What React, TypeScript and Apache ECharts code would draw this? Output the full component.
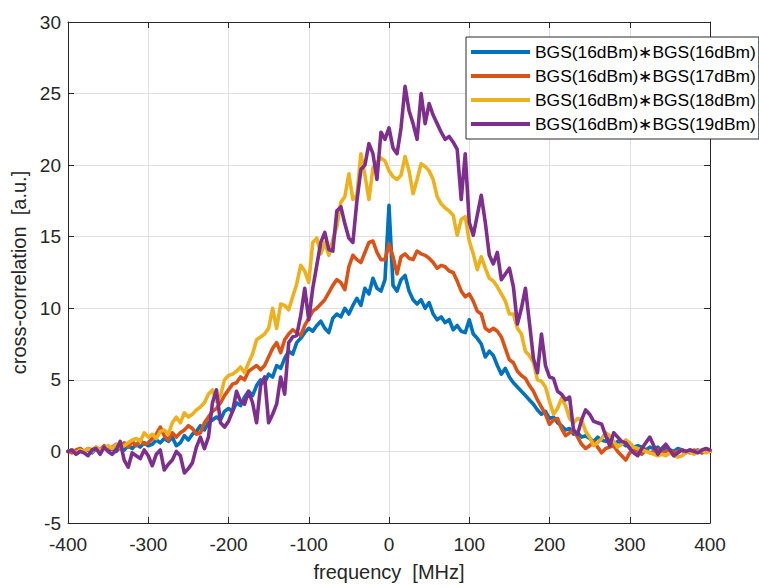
import React, { useEffect, useRef } from "react";
import * as echarts from "echarts";

const FREQ_START = -400;
const FREQ_STEP = 5;

const seriesNames = [
  "BGS(16dBm)\u2217BGS(16dBm)",
  "BGS(16dBm)\u2217BGS(17dBm)",
  "BGS(16dBm)\u2217BGS(18dBm)",
  "BGS(16dBm)\u2217BGS(19dBm)",
];
const seriesColors = ["#0072BD", "#D95319", "#EDB120", "#7E2F8E"];

const xTicks = [-400, -300, -200, -100, 0, 100, 200, 300, 400];
const yTicks = [-5, 0, 5, 10, 15, 20, 25, 30];

// values every 5 MHz, from -400 to 400 MHz
const bgs16 = [
  0.0, 0.1, -0.1, 0.2, 0.0, 0.1, -0.1, 0.2, 0.0, 0.3, 0.1, 0.2, 0.0, 0.3, 0.1, 0.4, 0.2, 0.5, 0.3, 0.6,
  0.4, 0.5, 0.8, 0.6, 0.9, 0.7, 1.0, 0.4, 0.6, 1.1, 0.8, 1.2, 1.4, 1.8, 1.5, 2.0, 2.2, 2.4, 2.2, 2.8,
  3.0, 2.8, 3.4, 3.2, 3.8, 4.2, 3.9, 4.6, 5.0, 4.8, 5.4, 5.2, 6.0, 5.8, 6.5, 7.0, 6.8, 7.6, 7.9, 8.3,
  8.6, 8.4, 8.8, 9.1, 8.6, 8.3, 9.3, 9.6, 9.4, 10.0, 9.6, 10.2, 10.7, 10.2, 11.4, 11.0, 12.1, 11.4, 11.2, 12.0,
  17.2, 11.6, 11.2, 12.0, 12.3, 11.2, 10.6, 10.3, 10.6, 10.0, 10.4, 9.6, 9.2, 9.4, 9.0, 9.2, 8.5, 8.8, 8.4, 8.3,
  9.2, 8.2, 7.9, 7.5, 6.6, 7.0, 6.7, 6.0, 5.4, 5.8, 5.2, 4.8, 4.5, 4.2, 3.9, 3.6, 3.3, 2.9, 2.6, 2.8,
  2.3, 2.4, 2.0, 1.8, 1.5, 1.6, 1.2, 1.3, 1.0, 1.1, 0.9, 0.7, 1.0, 0.8, 0.7, 0.9, 0.5, 0.7, 0.6, 0.4,
  0.5, 0.3, 0.4, 0.3, 0.1, 0.3, 0.2, 0.3, 0.0, 0.2, 0.1, 0.0, 0.2, 0.1, -0.1, 0.1, 0.0, 0.1, -0.1, 0.1,
  0.0,
];
const bgs17 = [
  0.0, -0.1, 0.1, 0.2, 0.0, 0.2, 0.1, 0.3, 0.1, 0.4, 0.2, 0.3, 0.5, 0.2, 0.6, 0.3, 0.7, 0.4, 0.8, 0.5,
  0.6, 0.9, 1.2, 1.7, 1.1, 0.8, 1.3, 1.0, 1.3, 1.5, 1.8, 1.6, 1.2, 1.3, 2.0, 2.4, 2.8, 3.0, 3.4, 3.9,
  4.3, 4.7, 4.8, 5.2, 5.0, 5.6, 5.8, 6.0, 5.7, 6.0, 6.6, 7.2, 7.6, 6.9, 7.8, 8.2, 8.5, 8.3, 8.1, 8.8,
  9.3, 9.8, 10.0, 10.3, 10.6, 11.1, 11.6, 12.0, 11.8, 11.3, 12.9, 13.7, 13.4, 13.2, 13.9, 14.6, 14.7, 13.9, 13.4, 13.4,
  14.5, 13.6, 12.4, 13.6, 13.8, 13.5, 13.4, 14.0, 13.8, 13.7, 13.5, 13.2, 12.8, 13.0, 12.9, 12.6, 12.5, 11.9, 11.2, 10.8,
  11.0, 10.5, 9.8, 9.6, 8.6, 8.4, 8.6, 8.4, 8.0, 7.2, 6.4, 6.2, 5.6, 5.3, 5.1, 4.6, 4.2, 3.6, 3.1, 2.6,
  1.9, 2.2, 2.3, 1.6, 1.1, 1.3, 1.5, 1.0, 0.5, 0.2, 0.4, 0.7, 0.3, -0.1, 0.2, 0.3, 0.4, 0.0, -0.3, -0.6,
  -0.1, 0.1, 0.0, -0.2, 0.1, -0.1, 0.0, 0.1, -0.1, 0.0, 0.1, -0.1, 0.0, 0.1, 0.0, -0.1, 0.1, 0.0, -0.1, 0.1,
  0.0,
];
const bgs18 = [
  0.0, 0.1, -0.1, 0.1, 0.0, 0.2, 0.0, 0.3, 0.1, 0.2, 0.4, 0.2, 0.5, 0.3, 0.4, 0.6, 0.8, 0.9, 0.7, 1.3,
  1.0, 1.2, 0.9, 1.4, 1.5, 1.2, 2.0, 2.4, 2.0, 2.7, 2.4, 2.6, 2.9, 3.1, 3.4, 4.0, 4.3, 3.5, 3.9, 5.0,
  5.3, 5.4, 5.6, 5.9, 5.5, 6.2, 6.8, 7.8, 8.0, 8.2, 8.6, 10.0, 8.6, 10.3, 10.2, 9.9, 10.8, 11.7, 13.0, 12.6,
  11.8, 14.6, 14.9, 13.8, 14.6, 13.7, 14.8, 15.7, 17.4, 17.8, 19.4, 17.6, 17.9, 20.8, 19.3, 17.6, 19.8, 20.2, 20.5, 20.3,
  19.6, 19.2, 19.0, 19.3, 20.6, 19.6, 18.0, 19.0, 20.1, 19.9, 19.6, 19.0, 17.8, 17.3, 17.0, 16.8, 16.5, 15.1, 16.2, 16.4,
  14.7, 13.8, 12.7, 13.6, 12.8, 12.1, 11.9, 11.5, 11.0, 10.5, 9.6, 9.6, 8.6, 8.2, 7.0, 6.7, 6.2, 5.0, 4.9, 4.5,
  3.5, 2.6, 3.0, 3.7, 3.2, 2.3, 2.0, 2.3, 2.2, 1.4, 1.0, 0.4, 0.6, 0.9, 1.3, 1.1, 0.7, 0.3, 0.5, 0.8,
  0.6, 0.3, 0.2, 0.1, 0.0, -0.1, -0.2, -0.3, -0.2, -0.3, -0.1, -0.3, -0.4, -0.3, -0.1, 0.0, -0.2, 0.0, 0.1, -0.1,
  0.0,
];
const bgs19 = [
  0.0, 0.1, -0.2, 0.0, -0.1, -0.3, 0.1, 0.2, -0.2, 0.3, 0.0, -0.2, 0.1, 0.7, -0.6, -1.1, -0.1, -0.3, -0.5, 0.1,
  -0.3, -1.0, -0.2, 0.1, -1.3, -0.9, -0.6, 0.0, -0.3, -1.5, -1.2, -0.8, 0.3, 1.0, 0.2, 1.0, 3.4, 4.3, 2.0, 1.7,
  2.1, 2.8, 4.2, 3.5, 3.3, 4.2, 3.4, 2.0, 4.6, 5.2, 2.0, 2.6, 3.3, 5.2, 4.0, 7.6, 8.0, 8.1, 9.5, 11.4,
  9.2, 11.4, 13.0, 14.6, 15.3, 14.1, 14.0, 16.8, 17.1, 15.9, 14.9, 14.6, 17.5, 19.7, 20.0, 21.5, 20.8, 19.0, 22.3, 21.8,
  22.6, 21.2, 20.8, 22.6, 25.5, 23.8, 22.9, 21.8, 25.0, 22.9, 24.3, 23.5, 22.9, 22.3, 21.8, 22.0, 21.6, 21.1, 17.6, 20.8,
  16.0, 15.1, 16.5, 17.9, 16.0, 13.7, 13.1, 13.9, 12.0, 12.4, 12.8, 11.5, 8.9, 10.0, 11.4, 9.0, 6.5, 5.5, 8.2, 6.0,
  5.2, 5.1, 4.2, 4.0, 3.6, 3.8, 1.5, 1.2, 2.2, 2.9, 2.6, 2.1, 2.0, 1.9, 1.1, 0.4, 1.3, 1.0, 0.7, 0.6,
  0.2, -0.1, -0.3, 0.2, 0.6, 1.0, 0.4, -0.2, 0.2, 0.5, 0.1, -0.3, -0.1, 0.1, 0.0, 0.1, 0.0, -0.1, 0.1, 0.2,
  0.1,
];

const allSeries = [bgs16, bgs17, bgs18, bgs19];

const FONT = "'Liberation Sans', Arial, Helvetica, sans-serif";

export default function App() {
  const ref = useRef<HTMLDivElement>(null);
  useEffect(() => {
    if (!ref.current) return;
    const chart = echarts.init(ref.current, null, { renderer: "svg" });
    const axisColor = "#262626";
    const gridColor = "#e0e0e0";
    const xMin = xTicks[0];
    const xMax = xTicks[xTicks.length - 1];
    const yMin = yTicks[0];
    const yMax = yTicks[yTicks.length - 1];
    chart.setOption({
      animation: false,
      backgroundColor: "#ffffff",
      textStyle: { fontFamily: FONT },
      grid: { left: 68, right: 49, top: 22, bottom: 60, containLabel: false },
      legend: {
        orient: "vertical",
        left: 466,
        top: 37,
        padding: [5, 3, 5, 5],
        itemWidth: 59,
        itemHeight: 4,
        itemGap: 4,
        icon: "rect",
        backgroundColor: "#ffffff",
        borderColor: "#2a2a2a",
        borderWidth: 1,
        borderRadius: 0,
        textStyle: { fontFamily: FONT, fontSize: 17.4, color: "#000000", lineHeight: 20 },
        data: seriesNames,
      },
      xAxis: [
        {
          type: "value",
          min: xMin,
          max: xMax,
          interval: 100,
          name: "frequency  [MHz]",
          nameLocation: "middle",
          nameGap: 39,
          nameTextStyle: { fontFamily: FONT, fontSize: 20, color: "#262626" },
          axisLine: { show: true, onZero: false, lineStyle: { color: axisColor, width: 1 } },
          axisTick: { show: true, inside: true, length: 6, lineStyle: { color: axisColor } },
          axisLabel: { fontFamily: FONT, fontSize: 19, color: "#262626", margin: 12 },
          splitLine: { show: true, lineStyle: { color: gridColor, width: 1 } },
        },
        {
          type: "value",
          position: "top",
          min: xMin,
          max: xMax,
          interval: 100,
          axisLine: { show: true, onZero: false, lineStyle: { color: axisColor, width: 1 } },
          axisTick: { show: true, inside: true, length: 6, lineStyle: { color: axisColor } },
          axisLabel: { show: false },
          splitLine: { show: false },
        },
      ],
      yAxis: [
        {
          type: "value",
          min: yMin,
          max: yMax,
          interval: 5,
          name: "cross-correlation  [a.u.]",
          nameLocation: "middle",
          nameGap: 37,
          nameTextStyle: { fontFamily: FONT, fontSize: 20, color: "#262626" },
          axisLine: { show: true, onZero: false, lineStyle: { color: axisColor, width: 1 } },
          axisTick: { show: true, inside: true, length: 6, lineStyle: { color: axisColor } },
          axisLabel: { fontFamily: FONT, fontSize: 19, color: "#262626", margin: 7 },
          splitLine: { show: true, lineStyle: { color: gridColor, width: 1 } },
        },
        {
          type: "value",
          position: "right",
          min: yMin,
          max: yMax,
          interval: 5,
          axisLine: { show: true, onZero: false, lineStyle: { color: axisColor, width: 1 } },
          axisTick: { show: true, inside: true, length: 6, lineStyle: { color: axisColor } },
          axisLabel: { show: false },
          splitLine: { show: false },
        },
      ],
      series: allSeries.map((vals, i) => ({
        name: seriesNames[i],
        type: "line",
        xAxisIndex: 0,
        yAxisIndex: 0,
        showSymbol: false,
        symbol: "none",
        color: seriesColors[i],
        lineStyle: { color: seriesColors[i], width: 3.6, join: "round", cap: "round" },
        data: vals.map((v, k) => [FREQ_START + k * FREQ_STEP, v]),
        z: 2 + i,
      })),
    });
    return () => chart.dispose();
  }, []);
  return (
    <div
      ref={ref}
      style={{ position: "fixed", left: 0, top: 0, width: 759, height: 587, background: "#fff" }}
    />
  );
}
